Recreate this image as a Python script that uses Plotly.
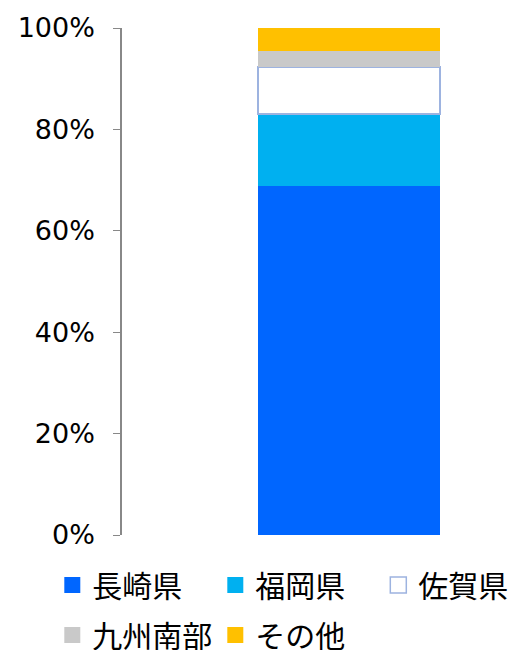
import plotly.graph_objects as go

categories = ["長崎県", "福岡県", "佐賀県", "九州南部", "その他"]
values = [68.8, 14.2, 9.4, 3.1, 4.5]
colors = ["#0066FF", "#00B0F0", "#FFFFFF", "#C9C9C9", "#FFC000"]
line_colors = ["#0066FF", "#00B0F0", "#9DB3E0", "#C9C9C9", "#FFC000"]
line_widths = [0, 0, 2, 0, 0]
legend_rows = ["legend", "legend", "legend", "legend2", "legend2"]
tick_vals = [0, 20, 40, 60, 80, 100]
tick_text = ["0%", "20%", "40%", "60%", "80%", "100%"]

CJK = "Noto Sans CJK JP"
NUM = "DejaVu Sans"
fig = go.Figure()
for name, v, c, lc, lw, lg in zip(categories, values, colors, line_colors,
                                  line_widths, legend_rows):
    fig.add_trace(go.Bar(
        x=[0], y=[v], name=name, width=1,
        marker=dict(color=c, line=dict(color=lc, width=lw)),
        showlegend=False, hoverinfo="skip",
    ))
    fig.add_trace(go.Scatter(
        x=[None], y=[None], mode="markers", name=name, legend=lg,
        marker=dict(symbol="square", size=16, color=c,
                    line=dict(color=lc, width=1.5 if lw else 0)),
    ))

legend_common = dict(orientation="h", xanchor="left", yanchor="middle",
                     font=dict(family=CJK, size=30, color="#000000"),
                     entrywidth=118, itemwidth=30, traceorder="normal",
                     bgcolor="rgba(0,0,0,0)", borderwidth=0)

fig.update_layout(
    barmode="stack",
    width=518, height=650,
    margin=dict(l=114, r=8, t=20, b=123, autoexpand=False),
    paper_bgcolor="white", plot_bgcolor="white",
    font=dict(family=CJK, size=20, color="#000000"),
    xaxis=dict(range=[-1.247, 0.929], showticklabels=False, showgrid=False,
               zeroline=False, showline=False, fixedrange=True, automargin=False),
    yaxis=dict(range=[0, 100], tickvals=tick_vals, ticktext=tick_text,
               showgrid=False, zeroline=False, showline=True,
               linecolor="#888888", linewidth=1.5, automargin=False,
               ticks="outside", ticklen=7, tickcolor="#888888",
               ticklabelstandoff=13,
               tickfont=dict(family=NUM, size=27, color="#000000")),
    legend=dict(x=-0.176, y=-0.0987, **legend_common),
    legend2=dict(x=-0.176, y=-0.197, **legend_common),
)

fig.write_html("out.html")
